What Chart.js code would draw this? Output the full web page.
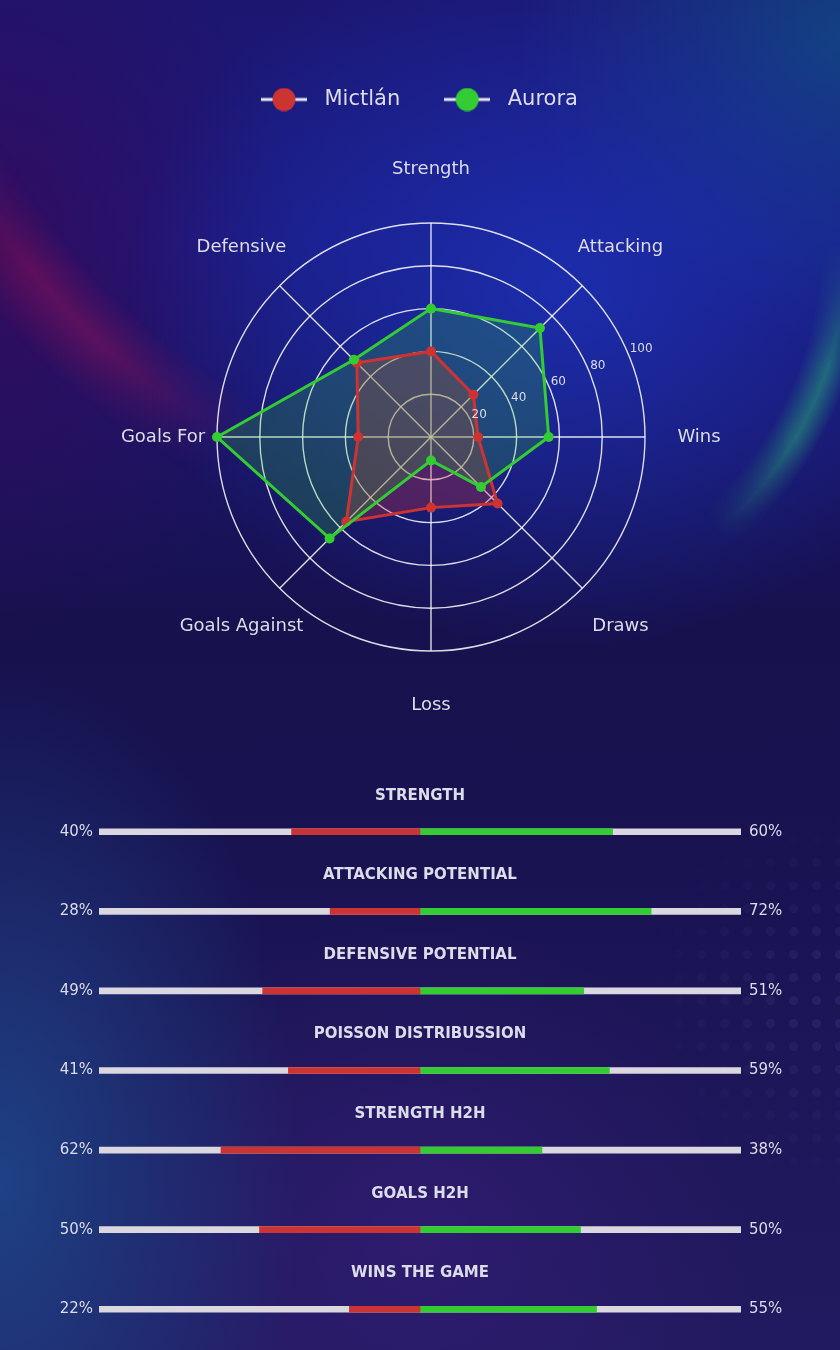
<!DOCTYPE html>
<html>
<head>
<meta charset="utf-8">
<script src="https://cdn.jsdelivr.net/npm/chart.js@4.4.1/dist/chart.umd.min.js"></script>
<style>
  html, body { margin: 0; padding: 0; }
  body {
    width: 840px; height: 1350px; position: relative; overflow: hidden;
    font-family: "DejaVu Sans", sans-serif;
    background:
      radial-gradient(ellipse 430px 360px at 560px 290px, rgba(28,48,180,0.85), rgba(28,48,180,0) 100%),
      radial-gradient(ellipse 320px 300px at 840px 40px, rgba(18,70,130,0.9), rgba(18,70,130,0) 100%),
      radial-gradient(ellipse 300px 380px at 0px 260px, rgba(55,8,85,0.8), rgba(55,8,85,0) 100%),
      radial-gradient(ellipse 300px 520px at 0px 1180px, rgba(30,72,140,0.85), rgba(30,72,140,0) 100%),
      radial-gradient(ellipse 330px 320px at 420px 1240px, rgba(50,28,115,0.8), rgba(50,28,115,0) 100%),
      linear-gradient(to bottom, #1c1670 0px, #1a1a80 240px, #17114e 620px, #181250 800px, #221a60 1350px);
  }
  .brillo { position: absolute; left: 0; top: 0; width: 840px; height: 1350px; pointer-events: none; }
  .rojo {
    background: radial-gradient(circle 700px at 520px -120px, rgba(170,20,85,0) 580px, rgba(170,20,85,0.38) 625px, rgba(170,20,85,0) 680px);
    -webkit-mask-image: radial-gradient(ellipse 250px 200px at 70px 310px, #000 25%, transparent 100%);
    mask-image: radial-gradient(ellipse 250px 200px at 70px 310px, #000 25%, transparent 100%);
  }
  .verde {
    background: radial-gradient(circle 420px at 475px 249px, rgba(40,180,120,0) 345px, rgba(40,180,120,0.5) 372px, rgba(40,180,120,0) 395px);
    -webkit-mask-image: radial-gradient(ellipse 150px 170px at 820px 410px, #000 25%, transparent 100%);
    mask-image: radial-gradient(ellipse 150px 170px at 820px 410px, #000 25%, transparent 100%);
  }
  .puntos {
    background-image: radial-gradient(circle, rgba(140,140,220,0.11) 4px, rgba(140,140,220,0) 5px);
    background-size: 23px 23px;
    -webkit-mask-image: radial-gradient(ellipse 210px 200px at 850px 1000px, #000 15%, transparent 100%);
    mask-image: radial-gradient(ellipse 210px 200px at 850px 1000px, #000 15%, transparent 100%);
  }
  #radar { position: absolute; left: 0; top: 0; }
  #barras { position: absolute; left: 0; top: 760px; }
</style>
</head>
<body>
<div class="brillo rojo"></div>
<div class="brillo verde"></div>
<div class="brillo puntos"></div>
<canvas id="radar" width="840" height="760"></canvas>
<canvas id="barras" width="840" height="606"></canvas>
<script>
// Datos del radar
const categorias = ['Strength', 'Attacking', 'Wins', 'Draws', 'Loss', 'Goals Against', 'Goals For', 'Defensive'];
const mictlan = [40, 28, 22, 44, 33, 56, 34, 49];
const aurora = [60, 72, 55, 33, 11, 67, 100, 51];
const marcasRadar = [20, 40, 60, 80, 100];

// Datos de las barras comparativas
const titulos = ['STRENGTH', 'ATTACKING POTENTIAL', 'DEFENSIVE POTENTIAL', 'POISSON DISTRIBUSSION', 'STRENGTH H2H', 'GOALS H2H', 'WINS THE GAME'];
const pctMictlan = [40, 28, 49, 41, 62, 50, 22];
const pctAurora = [60, 72, 51, 59, 38, 50, 55];

const ROJO = '#cc3333';
const VERDE = '#33cc33';
const TEXTO = '#dcdcea';

Chart.defaults.font.family = '"DejaVu Sans", sans-serif';
Chart.defaults.color = TEXTO;

// Marcador de leyenda: linea blanca con circulo de color
function marcador(color) {
    const c = document.createElement('canvas');
    c.width = 46;
    c.height = 24;
    const g = c.getContext('2d');
    g.strokeStyle = '#e8e8f2';
    g.lineWidth = 3;
    g.beginPath();
    g.moveTo(0, 12);
    g.lineTo(46, 12);
    g.stroke();
    g.fillStyle = color;
    g.beginPath();
    g.arc(23, 12, 11.5, 0, Math.PI * 2);
    g.fill();
    return c;
}
const marcadores = [marcador(ROJO), marcador(VERDE)];

// Etiquetas de ejes y valores del radar
const etiquetasRadar = {
    id: 'etiquetasRadar',
    afterDraw(chart) {
        const s = chart.scales.r;
        const ctx = chart.ctx;
        ctx.save();
        ctx.fillStyle = TEXTO;
        ctx.font = '18px "DejaVu Sans"';
        ctx.textAlign = 'center';
        ctx.textBaseline = 'middle';
        categorias.forEach((c, i) => {
            const p = s.getPointPosition(i, s.drawingArea + 54);
            ctx.fillText(c, p.x, p.y);
        });
        ctx.font = '12px "DejaVu Sans"';
        ctx.textAlign = 'left';
        const ang = Math.PI * 67.5 / 180;
        marcasRadar.forEach(v => {
            const r = s.getDistanceFromCenterForValue(v);
            ctx.fillText(String(v), s.xCenter + r * Math.sin(ang) + 1, s.yCenter - r * Math.cos(ang) - 6);
        });
        ctx.restore();
    }
};

new Chart(document.getElementById('radar'), {
    type: 'radar',
    data: {
        labels: categorias,
        datasets: [{
            label: 'Mictlán',
            data: mictlan,
            borderColor: ROJO,
            backgroundColor: 'rgba(204,51,51,0.3)',
            pointBackgroundColor: ROJO,
            order: 1
        }, {
            label: 'Aurora',
            data: aurora,
            borderColor: VERDE,
            backgroundColor: 'rgba(51,204,51,0.22)',
            pointBackgroundColor: VERDE,
            order: 0
        }]
    },
    options: {
        responsive: false,
        animation: false,
        layout: { padding: { top: 52, left: 217, right: 195, bottom: 6 } },
        elements: {
            line: { borderWidth: 3, fill: true, tension: 0 },
            point: { radius: 5, borderWidth: 0 }
        },
        plugins: {
            filler: { drawTime: 'beforeDatasetsDraw' },
            tooltip: { enabled: false },
            legend: {
                position: 'top',
                align: 'start',
                labels: {
                    usePointStyle: true,
                    pointStyleWidth: 60,
                    padding: 37,
                    color: TEXTO,
                    font: { size: 21 },
                    sort: (a, b) => a.datasetIndex - b.datasetIndex,
                    generateLabels(chart) {
                        const items = Chart.defaults.plugins.legend.labels.generateLabels(chart);
                        items.forEach(it => { it.pointStyle = marcadores[it.datasetIndex]; });
                        return items;
                    }
                }
            }
        },
        scales: {
            r: {
                min: 0,
                max: 100,
                ticks: { stepSize: 20, display: false },
                grid: { circular: true, color: 'rgba(255,255,255,0.85)', lineWidth: 1.4 },
                angleLines: { color: 'rgba(255,255,255,0.85)', lineWidth: 1.4 },
                pointLabels: { display: false }
            }
        }
    },
    plugins: [etiquetasRadar]
});

// Titulos encima de cada barra
const titulosBarras = {
    id: 'titulosBarras',
    afterDraw(chart) {
        const { ctx, chartArea, scales: { y } } = chart;
        ctx.save();
        ctx.font = 'bold 15px "DejaVu Sans"';
        ctx.fillStyle = TEXTO;
        ctx.textAlign = 'center';
        ctx.textBaseline = 'middle';
        titulos.forEach((t, i) => {
            ctx.fillText(t, (chartArea.left + chartArea.right) / 2, y.getPixelForValue(i) - 36);
        });
        ctx.restore();
    }
};

new Chart(document.getElementById('barras'), {
    type: 'bar',
    data: {
        labels: pctMictlan.map(v => v + '%'),
        datasets: [
            { label: 'Mictlán', data: pctMictlan.map(v => -v), backgroundColor: ROJO },
            { label: 'Aurora', data: pctAurora, backgroundColor: VERDE },
            { label: 'pista', data: titulos.map(() => [-100, 100]), backgroundColor: '#dad7e0' }
        ]
    },
    options: {
        indexAxis: 'y',
        responsive: false,
        animation: false,
        datasets: { bar: { barThickness: 6, grouped: false, borderWidth: 0 } },
        layout: { padding: { top: 32, bottom: 2, left: 0, right: 0 } },
        plugins: { legend: { display: false }, tooltip: { enabled: false } },
        scales: {
            x: { display: false, min: -100, max: 100 },
            y: {
                position: 'left',
                grid: { display: false, drawTicks: false },
                border: { display: false },
                ticks: { color: TEXTO, font: { size: 15 }, padding: 6 },
                afterFit(s) { s.width = 99; }
            },
            y2: {
                type: 'category',
                position: 'right',
                labels: pctAurora.map(v => v + '%'),
                offset: true,
                grid: { display: false, drawTicks: false },
                border: { display: false },
                ticks: { color: TEXTO, font: { size: 15 }, padding: 8 },
                afterFit(s) { s.width = 99; }
            }
        }
    },
    plugins: [titulosBarras]
});
</script>
</body>
</html>
